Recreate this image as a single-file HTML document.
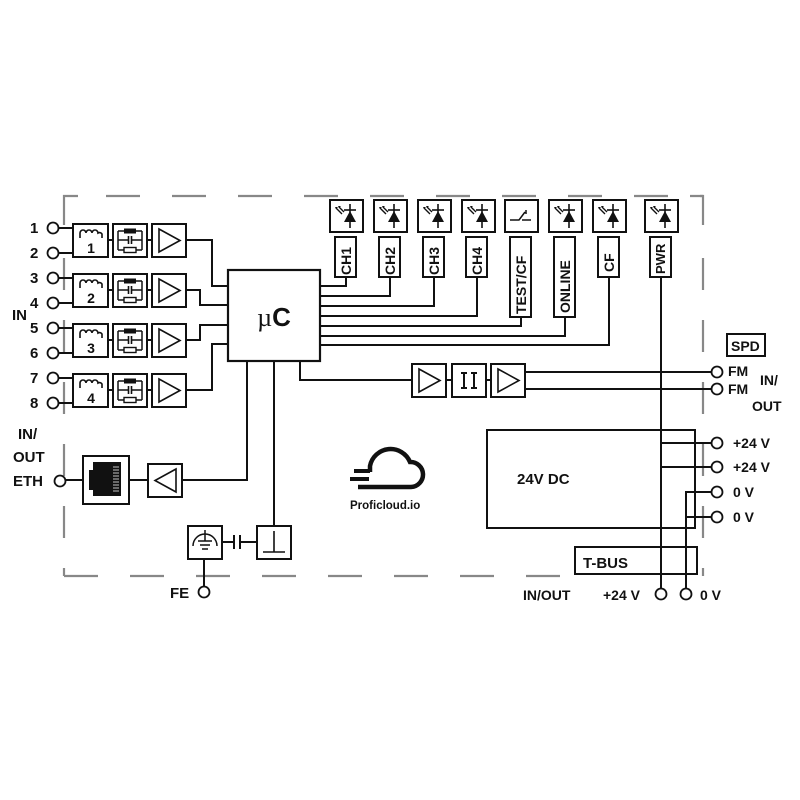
<!DOCTYPE html>
<html><head><meta charset="utf-8"><style>
html,body{margin:0;padding:0;background:#fff}
svg{display:block}
text{font-family:"Liberation Sans",sans-serif;font-weight:bold;fill:#111}
</style></head><body>
<svg width="800" height="800" viewBox="0 0 800 800" xmlns="http://www.w3.org/2000/svg">
<defs>
<g id="led">
<rect x="0" y="0" width="33" height="32" fill="#fff" stroke="#111" stroke-width="2"/>
<line x1="20" y1="4" x2="20" y2="28" stroke="#111" stroke-width="1.6"/>
<line x1="14" y1="10" x2="26" y2="10" stroke="#111" stroke-width="1.6"/>
<path d="M14 22 L26 22 L20 11 Z" fill="#111"/>
<path d="M6 8 L12 14 M9 7 L14 12" stroke="#111" stroke-width="1.4"/>
<path d="M5 7 l3 0 l-2 2z M8 6 l3 0 l-2 2z" fill="#111"/>
</g>
<g id="ind">
<rect x="0" y="0" width="35" height="33" fill="#fff" stroke="#111" stroke-width="2"/>
<path d="M7 14 V9 a3 3 0 0 1 6 0 a3 3 0 0 1 6 0 a3 3 0 0 1 6 0 a3 3 0 0 1 4 1 V14" fill="none" stroke="#111" stroke-width="1.6"/>
</g>
<g id="flt">
<rect x="0" y="0" width="34" height="33" fill="#fff" stroke="#111" stroke-width="2"/>
<path d="M5 7 H29 M5 7 V26 M29 7 V26 M5 16 H15 M19 16 H29 M5 26 H29" stroke="#111" stroke-width="1.5" fill="none"/>
<rect x="11" y="4.5" width="12" height="5" fill="#111"/>
<path d="M15.5 12 V20 M18.5 12 V20" stroke="#111" stroke-width="1.6"/>
<rect x="11" y="23.5" width="12" height="5" fill="#fff" stroke="#111" stroke-width="1.4"/>
</g>
<g id="amp">
<rect x="0" y="0" width="34" height="33" fill="#fff" stroke="#111" stroke-width="2"/>
<path d="M7 5 L28 16.5 L7 28 Z" fill="none" stroke="#111" stroke-width="1.6"/>
</g>
</defs>

<g stroke="#888" stroke-width="2.2" fill="none">
<path d="M78 196 H64 V225"/>
<line x1="106" y1="196" x2="703" y2="196" stroke-dasharray="34 32"/>
<path d="M690 196 H703 V225"/>
<line x1="64" y1="258" x2="64" y2="576" stroke-dasharray="32 30"/>
<line x1="703" y1="258" x2="703" y2="576" stroke-dasharray="32 30"/>
<line x1="64" y1="576" x2="570" y2="576" stroke-dasharray="34 32"/>
</g>

<g stroke="#111" stroke-width="2" fill="none">
<line x1="58" y1="228" x2="73" y2="228"/>
<line x1="58" y1="253" x2="73" y2="253"/>
<line x1="58" y1="278" x2="73" y2="278"/>
<line x1="58" y1="303" x2="73" y2="303"/>
<line x1="58" y1="328" x2="73" y2="328"/>
<line x1="58" y1="353" x2="73" y2="353"/>
<line x1="58" y1="378" x2="73" y2="378"/>
<line x1="58" y1="403" x2="73" y2="403"/>
<path d="M108 240 H113 M147 240 H152 M108 290 H113 M147 290 H152 M108 340 H113 M147 340 H152 M108 390 H113 M147 390 H152"/>
<path d="M186 240 H212 V286 H228"/>
<path d="M186 290 H200 V305 H228"/>
<path d="M186 340 H200 V325 H228"/>
<path d="M186 390 H212 V344 H228"/>
<path d="M320 286 H346 V277"/>
<path d="M320 296 H390 V277"/>
<path d="M320 306 H434 V277"/>
<path d="M320 316 H477 V277"/>
<path d="M320 326 H521 V317"/>
<path d="M320 336 H565 V317"/>
<path d="M320 345 H609 V277"/>
<line x1="661" y1="277" x2="661" y2="589"/>
<path d="M300 361 V380 H412"/>
<path d="M446 380 H452 M486 380 H491"/>
<path d="M525 372 H711 M525 389 H711"/>
<path d="M247 361 V480 H182"/>
<path d="M148 480 H129"/>
<path d="M83 480 H64"/>
<path d="M274 361 V526"/>
<path d="M222 542 H234 M240 542 H257 M234 535 V549 M240 535 V549"/>
<path d="M204 559 V587"/>
<path d="M661 443 H711 M661 467 H711"/>
<path d="M686 589 V492 H711 M686 517 H711"/>
</g>

<g fill="#fff" stroke="#111" stroke-width="1.8">
<circle cx="53" cy="228" r="5.5"/><circle cx="53" cy="253" r="5.5"/>
<circle cx="53" cy="278" r="5.5"/><circle cx="53" cy="303" r="5.5"/>
<circle cx="53" cy="328" r="5.5"/><circle cx="53" cy="353" r="5.5"/>
<circle cx="53" cy="378" r="5.5"/><circle cx="53" cy="403" r="5.5"/>
<circle cx="60" cy="481" r="5.5"/>
<circle cx="204" cy="592" r="5.5"/>
<circle cx="717" cy="372" r="5.5"/><circle cx="717" cy="389" r="5.5"/>
<circle cx="717" cy="443" r="5.5"/><circle cx="717" cy="467" r="5.5"/>
<circle cx="717" cy="492" r="5.5"/><circle cx="717" cy="517" r="5.5"/>
<circle cx="661" cy="594" r="5.5"/><circle cx="686" cy="594" r="5.5"/>
</g>

<use href="#ind" x="73" y="224"/><use href="#flt" x="113" y="224"/><use href="#amp" x="152" y="224"/>
<use href="#ind" x="73" y="274"/><use href="#flt" x="113" y="274"/><use href="#amp" x="152" y="274"/>
<use href="#ind" x="73" y="324"/><use href="#flt" x="113" y="324"/><use href="#amp" x="152" y="324"/>
<use href="#ind" x="73" y="374"/><use href="#flt" x="113" y="374"/><use href="#amp" x="152" y="374"/>
<g font-size="14" text-anchor="middle">
<text x="91" y="253">1</text><text x="91" y="303">2</text><text x="91" y="353">3</text><text x="91" y="403">4</text>
</g>

<rect x="228" y="270" width="92" height="91" fill="#fff" stroke="#111" stroke-width="2.2"/>
<text x="274" y="326" font-size="26" text-anchor="middle"><tspan font-family="Liberation Serif" font-weight="normal">µ</tspan>C</text>

<use href="#led" x="330" y="200"/><use href="#led" x="374" y="200"/>
<use href="#led" x="418" y="200"/><use href="#led" x="462" y="200"/>
<rect x="505" y="200" width="33" height="32" fill="#fff" stroke="#111" stroke-width="2"/>
<path d="M510 220 H519 L525 212 M522 220 H531 M526 210 V214" stroke="#111" stroke-width="1.5" fill="none"/>
<use href="#led" x="549" y="200"/><use href="#led" x="593" y="200"/>
<use href="#led" x="645" y="200"/>

<g fill="#fff" stroke="#111" stroke-width="2">
<rect x="335" y="237" width="21" height="40"/>
<rect x="379" y="237" width="21" height="40"/>
<rect x="423" y="237" width="21" height="40"/>
<rect x="466" y="237" width="21" height="40"/>
<rect x="510" y="237" width="21" height="80"/>
<rect x="554" y="237" width="21" height="80"/>
<rect x="598" y="237" width="21" height="40"/>
<rect x="650" y="237" width="21" height="40"/>
</g>
<g font-size="14">
<text transform="translate(351,275) rotate(-90)">CH1</text>
<text transform="translate(395,275) rotate(-90)">CH2</text>
<text transform="translate(439,275) rotate(-90)">CH3</text>
<text transform="translate(482,275) rotate(-90)">CH4</text>
<text transform="translate(526,314) rotate(-90)">TEST/CF</text>
<text transform="translate(570,313) rotate(-90)">ONLINE</text>
<text transform="translate(614,272) rotate(-90)">CF</text>
<text transform="translate(665,274) rotate(-90)" font-size="13">PWR</text>
</g>

<use href="#amp" x="412" y="364"/>
<rect x="452" y="364" width="34" height="33" fill="#fff" stroke="#111" stroke-width="2"/>
<path d="M461 373 H467 M464 373 V388 M461 388 H467 M471 373 H477 M474 373 V388 M471 388 H477" stroke="#111" stroke-width="2"/>
<use href="#amp" x="491" y="364"/>
<rect x="727" y="334" width="38" height="22" fill="#fff" stroke="#111" stroke-width="2"/>
<text x="731" y="351" font-size="14">SPD</text>
<g font-size="14">
<text x="728" y="376">FM</text><text x="728" y="394">FM</text>
<text x="760" y="385">IN/</text><text x="752" y="411">OUT</text>
</g>

<rect x="83" y="456" width="46" height="48" fill="#fff" stroke="#111" stroke-width="2"/>
<path d="M93 462 H121 V496 H93 V490 H89 V470 H93 Z" fill="#111"/>
<g stroke="#fff" stroke-width="0.8"><path d="M113 467 H119 M113 470 H119 M113 473 H119 M113 476 H119 M113 479 H119 M113 482 H119 M113 485 H119 M113 488 H119 M113 491 H119"/></g>
<rect x="148" y="464" width="34" height="33" fill="#fff" stroke="#111" stroke-width="2"/>
<path d="M176 469 L155 480.5 L176 492 Z" fill="none" stroke="#111" stroke-width="1.6"/>

<rect x="188" y="526" width="34" height="33" fill="#fff" stroke="#111" stroke-width="2"/>
<path d="M193 546 a12 12 0 0 1 24 0" fill="none" stroke="#111" stroke-width="1.5"/>
<path d="M205 530 V541 M198 541 H212 M200 545 H210 M202 549 H208" stroke="#111" stroke-width="1.5"/>
<rect x="257" y="526" width="34" height="33" fill="#fff" stroke="#111" stroke-width="2"/>
<path d="M274 531 V552 M263 552 H285" stroke="#111" stroke-width="1.6"/>

<path d="M370 472 V466 a21 21 0 0 1 40 -4 a12.5 12.5 0 0 1 1 25 H358" fill="none" stroke="#111" stroke-width="4.5"/>
<path d="M354 471 H370 M350 479 H369" stroke="#111" stroke-width="4"/>
<text x="350" y="509" font-size="11.5">Proficloud.io</text>

<rect x="487" y="430" width="208" height="98" fill="none" stroke="#111" stroke-width="2"/>
<text x="517" y="484" font-size="15">24V DC</text>
<rect x="575" y="547" width="122" height="27" fill="none" stroke="#111" stroke-width="2"/>
<text x="583" y="568" font-size="15">T-BUS</text>
<g font-size="14">
<text x="733" y="448">+24 V</text><text x="733" y="472">+24 V</text>
<text x="733" y="497">0 V</text><text x="733" y="522">0 V</text>
<text x="523" y="600">IN/OUT</text><text x="603" y="600">+24 V</text><text x="700" y="600">0 V</text>
</g>

<g font-size="15">
<text x="30" y="233">1</text><text x="30" y="258">2</text><text x="30" y="283">3</text><text x="30" y="308">4</text>
<text x="30" y="333">5</text><text x="30" y="358">6</text><text x="30" y="383">7</text><text x="30" y="408">8</text>
<text x="12" y="320">IN</text>
<text x="18" y="439">IN/</text><text x="13" y="462">OUT</text><text x="13" y="486">ETH</text>
<text x="170" y="598">FE</text>
</g>
</svg>
</body></html>
